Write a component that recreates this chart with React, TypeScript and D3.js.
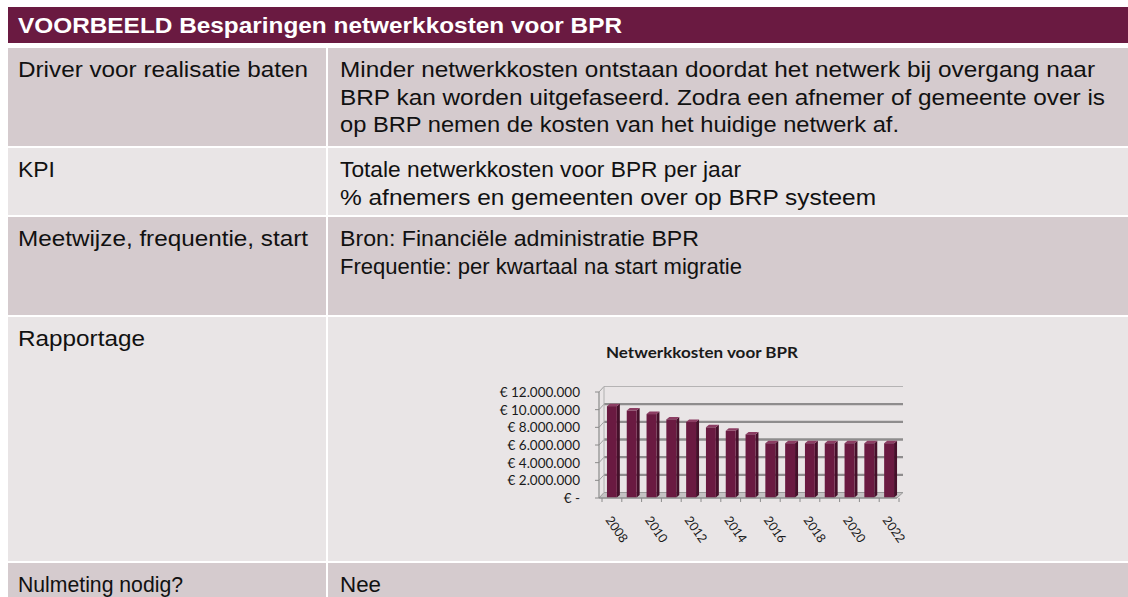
import * as d3 from 'd3';

// table content
const headerTitle = 'VOORBEELD Besparingen netwerkkosten voor BPR';
const rowLabels = ['Driver voor realisatie baten', 'KPI', 'Meetwijze, frequentie, start', 'Rapportage', 'Nulmeting nodig?'];
const rowTexts = [
  [
    'Minder netwerkkosten ontstaan doordat het netwerk bij overgang naar',
    'BRP kan worden uitgefaseerd. Zodra een afnemer of gemeente over is',
    'op BRP nemen de kosten van het huidige netwerk af.',
  ],
  ['Totale netwerkkosten voor BPR per jaar', '% afnemers en gemeenten over op BRP systeem'],
  ['Bron: Financiële administratie BPR', 'Frequentie: per kwartaal na start migratie'],
  [],
  ['Nee'],
];

// chart content
const chartTitle = 'Netwerkkosten voor BPR';
const years = ['2008', '2009', '2010', '2011', '2012', '2013', '2014', '2015', '2016', '2017', '2018', '2019', '2020', '2021', '2022'];
const costs = [10400000, 9900000, 9500000, 8900000, 8600000, 8000000, 7600000, 7200000, 6200000, 6200000, 6200000, 6200000, 6200000, 6200000, 6200000];
const yTicks = [0, 2000000, 4000000, 6000000, 8000000, 10000000, 12000000];
const xLabelYears = ['2008', '2010', '2012', '2014', '2016', '2018', '2020', '2022'];

// layout
const rowBands = [[48, 146], [148, 215], [217, 315], [317, 561], [563, 620]];
const rowFills = ['#d5cbce', '#e9e5e6', '#d5cbce', '#e9e5e6', '#d5cbce'];
const labelWidths: Record<string, number> = {
  'Driver voor realisatie baten': 290,
  KPI: 37,
  'Meetwijze, frequentie, start': 290,
  Rapportage: 127,
  'Nulmeting nodig?': 165,
};
const textWidths: Record<string, number> = {
  'Minder netwerkkosten ontstaan doordat het netwerk bij overgang naar': 755,
  'BRP kan worden uitgefaseerd. Zodra een afnemer of gemeente over is': 765,
  'op BRP nemen de kosten van het huidige netwerk af.': 559,
  'Totale netwerkkosten voor BPR per jaar': 401,
  '% afnemers en gemeenten over op BRP systeem': 536,
  'Bron: Financiële administratie BPR': 359,
  'Frequentie: per kwartaal na start migratie': 402,
  Nee: 41,
};

const MAROON = '#6a1a41';
const bodyFont = '"Liberation Sans", Arial, sans-serif';
const chartFont = 'Lato, "Open Sans", sans-serif';

const fmtEuro = (v: number) => (v === 0 ? '€ -' : '€ ' + d3.format(',')(v).replace(/,/g, '.'));

function BarChart() {
  // front plane scale, back wall sits a few pixels up and to the right
  const y = d3.scaleLinear().domain([0, 12000000]).range([498, 392]);
  const x = d3.scaleBand<string>().domain(years).range([602, 899]).paddingInner(0.5).paddingOuter(0.25);
  const wallDx = 5;
  const wallDy = -5.5;
  const axisX = 599;
  const wallRight = 903;
  const floorRight = 897;
  const depthX = 3;
  const depthY = -2.5;
  const bw = x.bandwidth();
  const step = x.step();

  return (
    <g>
      <text x={702} y={358} textAnchor="middle" fontFamily={chartFont} fontWeight="bold" fontSize={14.5} fill="#1a1a1a" textLength={192} lengthAdjust="spacingAndGlyphs">
        {chartTitle}
      </text>

      {/* floor */}
      <polygon
        points={`${axisX},${y(0)} ${axisX + wallDx},${y(0) + wallDy} ${wallRight},${y(0) + wallDy} ${floorRight},${y(0)}`}
        fill="#c4c2c3"
        stroke="#9a9a9a"
        strokeWidth={1}
      />

      {/* back wall gridlines */}
      {yTicks.filter(t => t > 0).map(t => (
        <g key={'g' + t}>
          <line
            x1={axisX + wallDx}
            x2={wallRight}
            y1={y(t) + wallDy}
            y2={y(t) + wallDy}
            stroke={t === 12000000 ? '#b5b3b4' : '#8e8c8d'}
            strokeWidth={t === 12000000 ? 1.2 : 2.4}
          />
          <line x1={axisX} x2={axisX + wallDx} y1={y(t)} y2={y(t) + wallDy} stroke="#a0a0a0" strokeWidth={1} />
        </g>
      ))}

      {/* side wall edges */}
      <line x1={axisX + wallDx} x2={axisX + wallDx} y1={y(12000000) + wallDy} y2={y(0) + wallDy} stroke="#b0b0b0" strokeWidth={1} />
      <line x1={axisX} x2={axisX} y1={y(12000000)} y2={y(0)} stroke="#8a8a8a" strokeWidth={1.2} />

      {/* y ticks and labels */}
      {yTicks.map(t => (
        <g key={'y' + t}>
          <line x1={axisX - 4} x2={axisX} y1={y(t)} y2={y(t)} stroke="#8a8a8a" strokeWidth={1} />
          <text x={580} y={y(t)} dy="0.36em" textAnchor="end" fontFamily={chartFont} fontSize={13.5} fill="#1a1a1a">
            {fmtEuro(t)}
          </text>
        </g>
      ))}

      {/* bars */}
      {years.map((yr, i) => {
        const x0 = x(yr) as number;
        const top = y(costs[i]);
        const bottom = y(0) - 0.5;
        return (
          <g key={yr}>
            <polygon
              points={`${x0 + bw},${top} ${x0 + bw + depthX},${top + depthY} ${x0 + bw + depthX},${bottom + depthY} ${x0 + bw},${bottom}`}
              fill="#45102a"
            />
            <polygon
              points={`${x0},${top} ${x0 + depthX},${top + depthY} ${x0 + bw + depthX},${top + depthY} ${x0 + bw},${top}`}
              fill="#8c3d63"
            />
            <rect x={x0} y={top} width={bw} height={bottom - top} fill={MAROON} />
          </g>
        );
      })}

      {/* x axis */}
      <line x1={axisX} x2={floorRight} y1={y(0)} y2={y(0)} stroke="#8a8a8a" strokeWidth={1.2} />
      {years.concat(['end']).map((yr, i) => {
        const tx = (x(years[0]) as number) - step * 0.25 + i * step;
        return <line key={'t' + yr} x1={tx} x2={tx} y1={y(0)} y2={y(0) + 4} stroke="#8a8a8a" strokeWidth={1} />;
      })}
      {xLabelYears.map(yr => {
        const cx = (x(yr) as number) + bw / 2 - 7;
        const cy = 520;
        return (
          <text key={'l' + yr} x={cx} y={cy} transform={`rotate(55, ${cx}, ${cy})`} fontFamily={chartFont} fontSize={12.5} fill="#1a1a1a">
            {yr}
          </text>
        );
      })}
    </g>
  );
}

export default function App() {
  return (
    <svg width={1128} height={597} style={{ position: 'absolute', left: 0, top: 0 }}>
      <rect x={0} y={0} width={1128} height={597} fill="#ffffff" />
      <rect x={8} y={7} width={1120} height={36} fill={MAROON} />
      <text x={18} y={33} fontFamily={bodyFont} fontWeight="bold" fontSize={22} fill="#ffffff" textLength={604} lengthAdjust="spacingAndGlyphs">
        {headerTitle}
      </text>

      {rowBands.map(([t, b], i) => (
        <g key={'row' + i}>
          <rect x={8} y={t} width={318} height={b - t} fill={rowFills[i]} />
          <rect x={328} y={t} width={800} height={b - t} fill={rowFills[i]} />
          <text x={18} y={t + 29} fontFamily={bodyFont} fontSize={21.5} fill="#111" textLength={labelWidths[rowLabels[i]]} lengthAdjust="spacingAndGlyphs">
            {rowLabels[i]}
          </text>
          {rowTexts[i].map((line, j) => (
            <text
              key={j}
              x={340}
              y={t + 29 + j * 27.5}
              fontFamily={bodyFont}
              fontSize={21.5}
              fill="#111"
              textLength={textWidths[line]}
              lengthAdjust="spacingAndGlyphs"
            >
              {line}
            </text>
          ))}
        </g>
      ))}

      <BarChart />
    </svg>
  );
}
